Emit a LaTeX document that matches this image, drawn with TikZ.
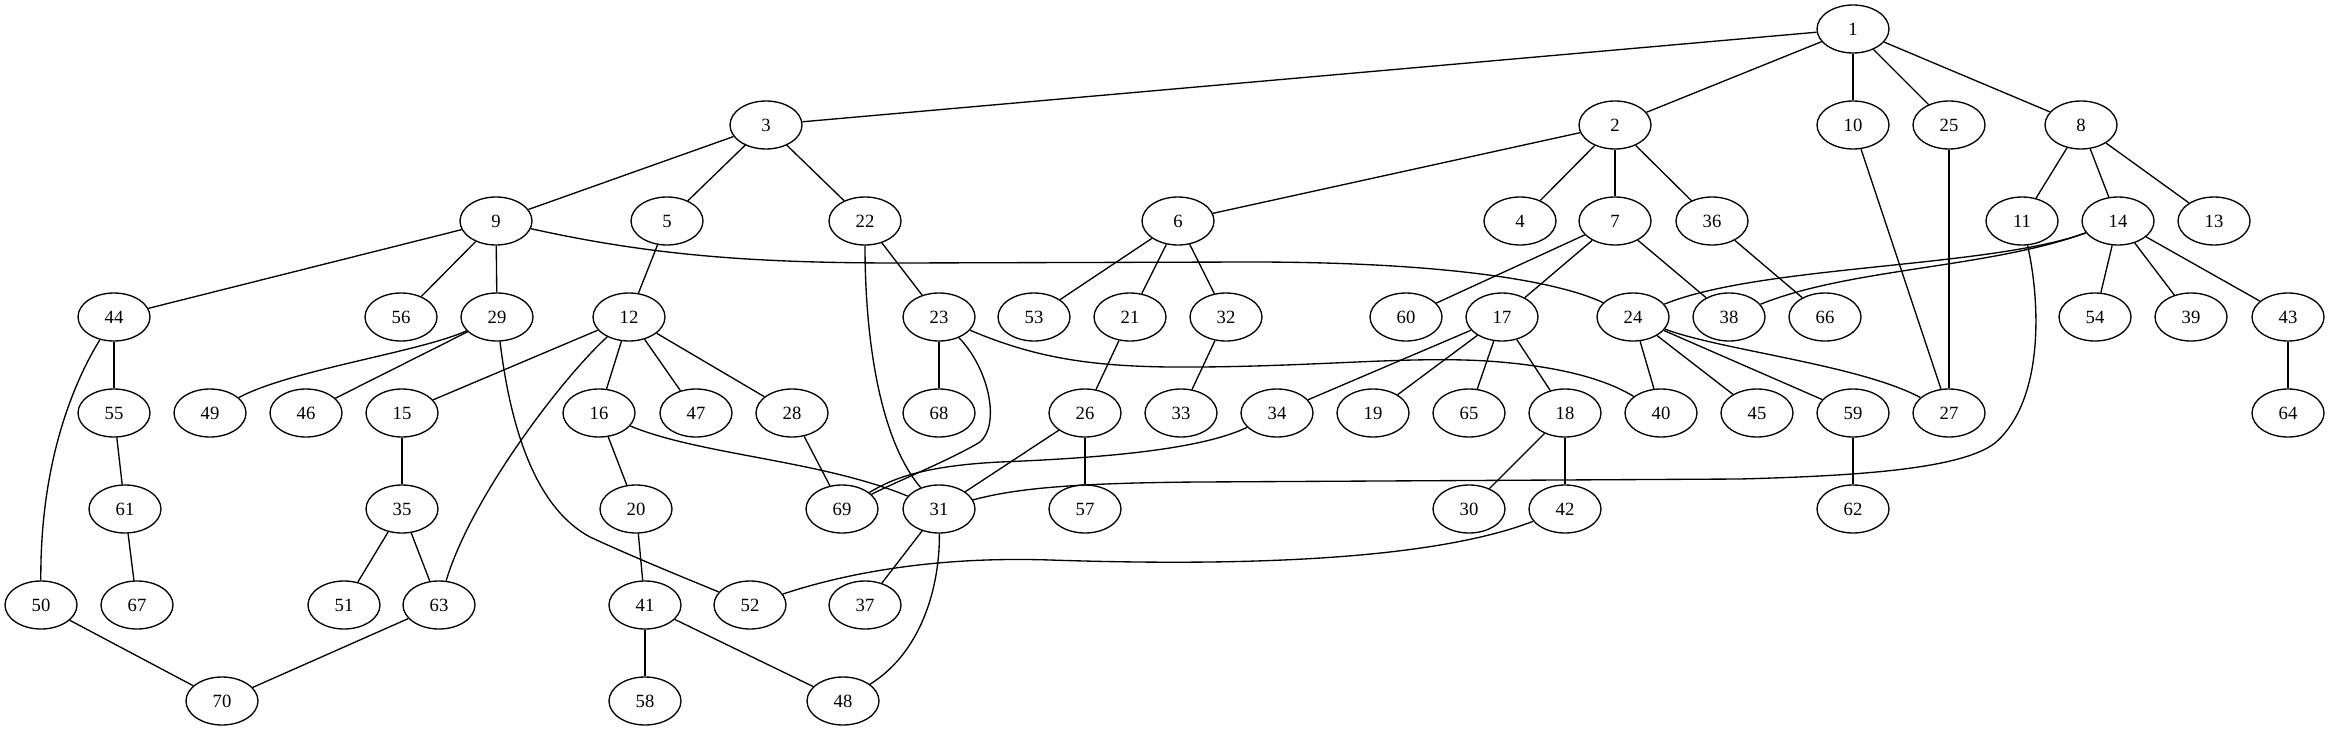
\documentclass[tikz,border=0pt]{standalone}
\usepackage{fontspec}
\setmainfont{Liberation Serif}
\usetikzlibrary{shapes.geometric}
\begin{document}
\begin{tikzpicture}[x=0.75pt,y=-0.75pt,
  vtx/.style={ellipse, draw, line width=1pt, minimum width=54pt, minimum height=36pt, inner sep=0pt, font=\fontsize{14pt}{16pt}\selectfont},
  edge/.style={line width=1pt}]
\useasboundingbox (0,0) rectangle (2329,731);
\foreach \n/\x/\y in {1/1853/29, 2/1615/125, 3/766/125, 4/1520/221, 5/667/221, 6/1178/221, 7/1615/221, 8/2081/125, 9/496/221, 10/1853/125,
 11/2022/221, 12/629/317, 13/2214/221, 14/2118/221, 15/402/413, 16/599/413, 17/1502/317, 18/1565/413, 19/1373/413, 20/636/509,
 21/1130/317, 22/865/221, 23/939/317, 24/1633/317, 25/1949/125, 26/1085/413, 27/1949/413, 28/792/413, 29/497/317, 30/1469/509,
 31/939/509, 32/1226/317, 33/1181/413, 34/1277/413, 35/402/509, 36/1712/221, 37/865/605, 38/1729/317, 39/2191/317, 40/1661/413,
 41/645/605, 42/1565/509, 43/2288/317, 44/114/317, 45/1757/413, 46/306/413, 47/696/413, 48/843/701, 49/210/413, 50/41/605,
 51/344/605, 52/750/605, 53/1034/317, 54/2095/317, 55/114/413, 56/401/317, 57/1085/509, 58/645/701, 59/1853/413, 60/1406/317,
 61/125/509, 62/1853/509, 63/439/605, 64/2288/413, 65/1469/413, 66/1825/317, 67/137/605, 68/939/413, 69/842/509, 70/222/701}
  \node[vtx] (n\n) at (\x,\y) {\n};
% straight edges
\foreach \a/\b in {1/3, 1/2, 1/10, 1/25, 1/8, 3/9, 3/5, 3/22, 2/6, 2/4, 2/7, 2/36, 10/27, 25/27, 8/11, 8/14, 8/13,
 9/44, 9/56, 9/29, 5/12, 22/23, 6/53, 6/21, 6/32, 7/60, 7/17, 7/38, 36/66, 14/54, 14/39, 14/43,
 44/55, 29/46, 12/15, 12/16, 12/47, 12/28, 23/68, 21/26, 32/33, 17/34, 17/19, 17/65, 17/18,
 24/40, 24/45, 24/59, 43/64, 55/61, 61/67, 15/35, 35/51, 35/63, 16/20, 28/69, 26/31, 26/57,
 18/30, 18/42, 59/62, 20/41, 31/37, 41/58, 41/48, 50/70, 63/70}
  \draw[edge] (n\a) -- (n\b);
% curved edges
\draw[edge] (n44) .. controls (75,380) and (40,460) .. (n50);
\draw[edge] (n31) .. controls (940,580) and (925,650) .. (n48);
\draw[edge] (n9) .. controls (650,255) and (750,263) .. (900,263) -- (1250,262) .. controls (1450,262) and (1560,282) .. (n24);
\draw[edge] (n22) .. controls (865,340) and (880,440) .. (n31);
\draw[edge] (n11) .. controls (2040,300) and (2045,400) .. (1995,443) .. controls (1960,470) and (1850,476) .. (1740,479) -- (1200,482) .. controls (1060,483) and (1010,490) .. (n31);
\draw[edge] (n14) .. controls (1990,268) and (1760,265) .. (n24);
\draw[edge] (n14) .. controls (1990,268) and (1850,268) .. (n38);
\draw[edge] (n23) .. controls (990,370) and (1000,425) .. (980,442) .. controls (950,460) and (900,480) .. (n69);
\draw[edge] (n23) .. controls (1040,360) and (1100,368) .. (1200,367) .. controls (1330,366) and (1420,355) .. (1500,362) .. controls (1570,368) and (1610,382) .. (n40);
\draw[edge] (n34) .. controls (1200,450) and (1100,458) .. (1000,462) .. controls (920,466) and (890,480) .. (n69);
\draw[edge] (n16) .. controls (700,455) and (820,460) .. (n31);
\draw[edge] (n29) .. controls (512,440) and (540,510) .. (590,537) .. controls (640,560) and (690,580) .. (n52);
\draw[edge] (n12) .. controls (560,380) and (470,500) .. (n63);
\draw[edge] (n29) .. controls (420,352) and (290,370) .. (n49);
\draw[edge] (n42) .. controls (1420,565) and (1200,565) .. (1050,560) .. controls (930,556) and (840,575) .. (n52);
\draw[edge] (n24) .. controls (1720,350) and (1860,365) .. (n27);
\end{tikzpicture}
\end{document}
